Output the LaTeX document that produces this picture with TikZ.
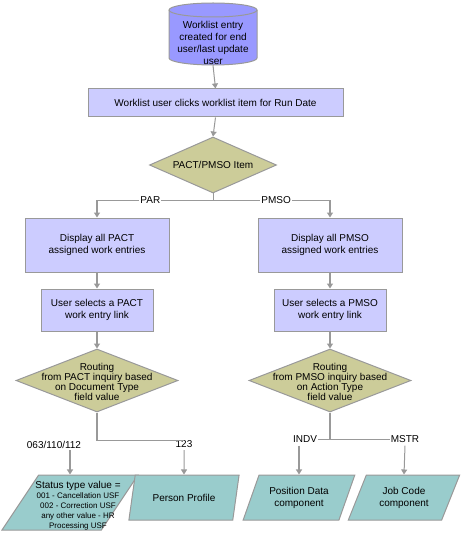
\documentclass[tikz,border=0pt]{standalone}
\usepackage{fontspec}
\setmainfont{Liberation Sans}
\usetikzlibrary{shapes.geometric,arrows.meta,calc}
\definecolor{dbblue}{RGB}{153,153,255}
\definecolor{boxblue}{RGB}{204,204,255}
\definecolor{diaolive}{RGB}{204,204,153}
\definecolor{iocyan}{RGB}{153,204,204}
\definecolor{edgegray}{RGB}{153,153,153}
\begin{document}
\begin{tikzpicture}[x=1pt,y=-1pt,
  every node/.style={font=\fontsize{10}{12}\selectfont, inner sep=0pt, align=center},
  procbox/.style={draw=edgegray, fill=boxblue, line width=1pt},
  decision/.style={diamond, draw=edgegray, fill=diaolive, line width=1pt},
  iobox/.style={trapezium, trapezium left angle=61, trapezium right angle=119, trapezium stretches=true, draw=edgegray, fill=iocyan, line width=1pt},
  flow/.style={draw=edgegray, line width=1.5pt, -{Triangle[width=6pt,length=5pt]}},
  thinflow/.style={draw=edgegray, line width=1pt, -{Triangle[width=6pt,length=5pt]}},
  link/.style={draw=edgegray, line width=1pt},
  thicklink/.style={draw=edgegray, line width=1.5pt},
  lbl/.style={fill=white, inner sep=1pt},
  smalltext/.style={font=\fontsize{8}{10}\selectfont}
]
\useasboundingbox (0,0) rectangle (462,545);
% cylinder
\path[draw=edgegray, fill=dbblue, line width=1pt] (169,10) -- (169,58)
  arc[start angle=180, end angle=360, x radius=44pt, y radius=7pt] -- (257,10)
  arc[start angle=0, end angle=180, x radius=44pt, y radius=7pt] -- cycle;
\draw[edgegray, line width=1pt] (169,10) arc[start angle=180, end angle=360, x radius=44pt, y radius=7pt];
\node[minimum width=88pt, minimum height=45pt] (db) at (213,42.5) {Worklist entry\\created for end\\user/last update\\user};

\node[procbox, minimum width=255pt, minimum height=28pt] (run) at (215.5,103) {Worklist user clicks worklist item for Run Date};
\node[decision, minimum width=127pt, minimum height=56pt] (item) at (213,165) {};
\node (itemtxt) at (item) {PACT/PMSO Item};

\node[procbox, minimum width=144pt, minimum height=54pt] (d1) at (97,245) {Display all PACT\\assigned work entries};
\node[procbox, minimum width=144pt, minimum height=54pt] (d2) at (330,245) {Display all PMSO\\assigned work entries};
\node[procbox, minimum width=112pt, minimum height=42pt] (s1) at (97,310) {User selects a PACT\\work entry link};
\node[procbox, minimum width=112pt, minimum height=42pt] (s2) at (330,310) {User selects a PMSO\\work entry link};

\node[decision, minimum width=162pt, minimum height=63pt] (r1) at (97,380.5) {};
\node[font=\fontsize{10}{10.2}\selectfont] (r1txt) at (97,382) {Routing\\from PACT inquiry based\\on Document Type\\field value};
\node[decision, minimum width=162pt, minimum height=63pt] (r2) at (330,380.5) {};
\node[font=\fontsize{10}{10.2}\selectfont] (r2txt) at (330,382) {Routing\\from PMSO inquiry based\\on Action Type\\field value};

\node[iobox, minimum width=136pt, minimum height=55pt] (st) at (70,502.5) {\phantom{x}};
\node[smalltext] (sttxt) at (78,506) {{\fontsize{10}{10}\selectfont Status type value =}\\001 - Cancellation USF\\002 - Correction USF\\any other value - HR\\Processing USF};
\node[iobox, minimum width=111pt, minimum height=45pt] (pp) at (184,497.5) {Person Profile};
\node[iobox, minimum width=112pt, minimum height=45pt] (pos) at (299,497.5) {Position Data\\component};
\node[iobox, minimum width=112pt, minimum height=45pt] (job) at (404,497.5) {Job Code\\component};

% labels
\node (l063) at (54,444.5) {063/110/112};
\node (l123) at (184,444.5) {123};
\node[lbl] (indv) at (305,439) {INDV};
\node[lbl] (mstr) at (405,439) {MSTR};

% connectors
\draw[thinflow] (db.south) -- (run.north);
\draw[thinflow] (run.south) -- (item.north);
\draw[link] (item.south) -- ++(0,7) coordinate (j1);
\draw[flow] (j1) -| node[lbl, pos=0.27] (par) {PAR} (d1.north);
\draw[flow] (j1) -| node[lbl, pos=0.27] (pmso) {PMSO} (d2.north);
\draw[flow] (d1.south) -- (s1.north);
\draw[flow] (s1.south) -- (r1.north);
\draw[flow] (d2.south) -- (s2.north);
\draw[flow] (s2.south) -- (r2.north);

\draw[thicklink] (r1.south) -- (r1.south |- l123.north);
\draw[link] (r1.south |- l123.north) -- (l123.north);
\draw[flow] ($(st.north |- l063.south)+(0,2)$) -- (st.north);
\draw[thinflow] ($(l123.south)+(0,2)$) -- (pp.north);

\draw[thicklink] (r2.south) -- (r2.south |- indv.east);
\draw[link] (indv.east) -- (mstr.west);
\draw[flow] ($(pos.north |- indv.south)+(0,2)$) -- (pos.north);
\draw[thinflow] ($(mstr.south)+(0,2)$) -- (job.north);
\end{tikzpicture}
\end{document}
